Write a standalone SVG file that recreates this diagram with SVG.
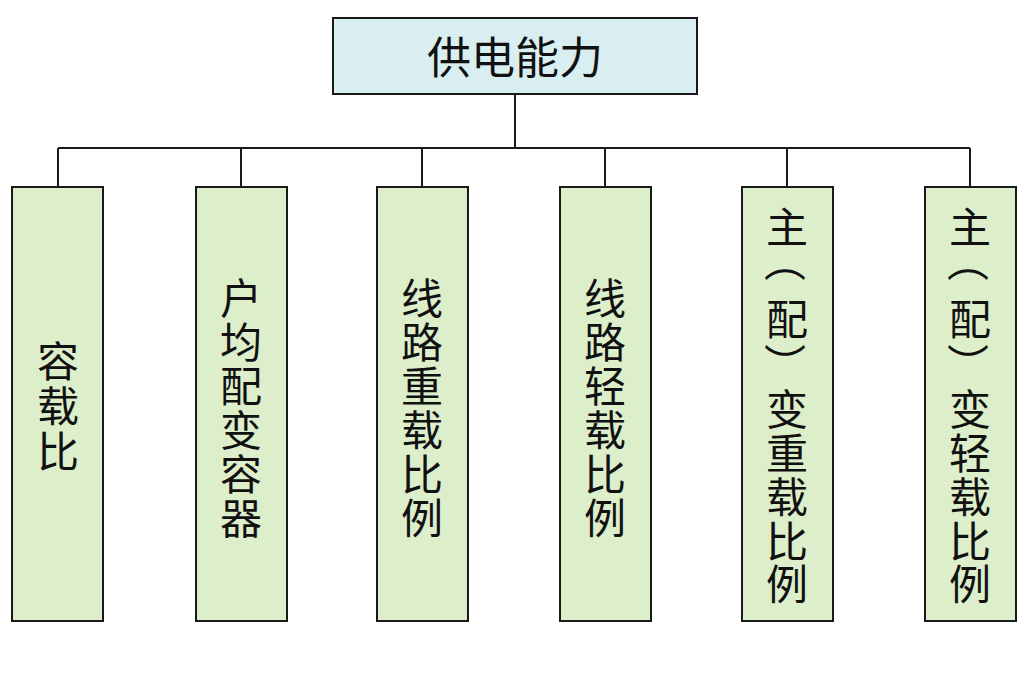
<svg xmlns="http://www.w3.org/2000/svg" width="1024" height="681" viewBox="0 0 1024 681">
<style>
.box{fill:#ddeecb;stroke:#1a1a1a;stroke-width:2}
.root{fill:#d8eef0;stroke:#1a1a1a;stroke-width:2}
.t{font-family:"Noto Sans CJK SC","Noto Sans",sans-serif;font-size:42px;fill:#111;text-anchor:middle;dominant-baseline:central}
.c{fill:none;stroke:#1a1a1a;stroke-width:2}
</style>
<rect width="1024" height="681" fill="#ffffff"/>
<g id="connectors">
<path class="c" d="M515 94V148M58 148H970M58 148V187M241 148V187M422 148V187M605 148V187M787 148V187M970 148V187"/>
</g>
<g id="root">
<rect class="root" x="333" y="18" width="364" height="76"/>
<text class="t" x="515" y="55" style="font-size:44px">供电能力</text>
</g>
<g id="n1">
<rect class="box" x="12" y="187" width="91" height="434"/>
<text class="t"><tspan x="58" y="358">容</tspan><tspan x="58" y="403">载</tspan><tspan x="58" y="448">比</tspan></text>
</g>
<g id="n2">
<rect class="box" x="196" y="187" width="91" height="434"/>
<text class="t"><tspan x="241" y="295">户</tspan><tspan x="241" y="339">均</tspan><tspan x="241" y="383">配</tspan><tspan x="241" y="427">变</tspan><tspan x="241" y="471">容</tspan><tspan x="241" y="515">器</tspan></text>
</g>
<g id="n3">
<rect class="box" x="377" y="187" width="91" height="434"/>
<text class="t"><tspan x="422" y="295">线</tspan><tspan x="422" y="339">路</tspan><tspan x="422" y="383">重</tspan><tspan x="422" y="427">载</tspan><tspan x="422" y="471">比</tspan><tspan x="422" y="515">例</tspan></text>
</g>
<g id="n4">
<rect class="box" x="560" y="187" width="91" height="434"/>
<text class="t"><tspan x="605" y="295">线</tspan><tspan x="605" y="339">路</tspan><tspan x="605" y="383">轻</tspan><tspan x="605" y="427">载</tspan><tspan x="605" y="471">比</tspan><tspan x="605" y="515">例</tspan></text>
</g>
<g id="n5">
<rect class="box" x="742" y="187" width="91" height="434"/>
<text class="t"><tspan x="787" y="224">主</tspan><tspan x="787" y="316">配</tspan><tspan x="787" y="406">变</tspan><tspan x="787" y="450">重</tspan><tspan x="787" y="494">载</tspan><tspan x="787" y="538">比</tspan><tspan x="787" y="581">例</tspan></text>
<text class="t" transform="translate(787,261) rotate(90)">（</text>
<text class="t" transform="translate(787,364) rotate(90)">）</text>
</g>
<g id="n6">
<rect class="box" x="925" y="187" width="91" height="434"/>
<text class="t"><tspan x="970" y="224">主</tspan><tspan x="970" y="316">配</tspan><tspan x="970" y="406">变</tspan><tspan x="970" y="450">轻</tspan><tspan x="970" y="494">载</tspan><tspan x="970" y="538">比</tspan><tspan x="970" y="581">例</tspan></text>
<text class="t" transform="translate(970,261) rotate(90)">（</text>
<text class="t" transform="translate(970,364) rotate(90)">）</text>
</g>
</svg>
